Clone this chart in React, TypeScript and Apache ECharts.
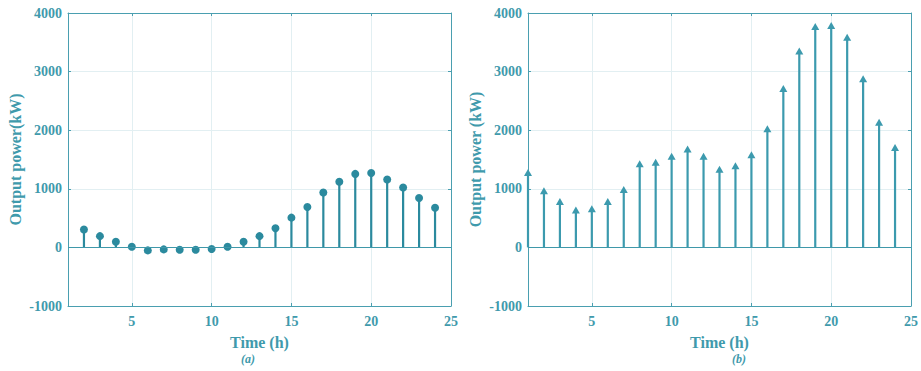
import React, { useEffect, useRef } from 'react';
import * as echarts from 'echarts';

const hoursA = [2, 3, 4, 5, 6, 7, 8, 9, 10, 11, 12, 13, 14, 15, 16, 17, 18, 19, 20, 21, 22, 23, 24];
const powerA = [305, 192, 96, 11, -51, -34, -40, -40, -28, 11, 96, 192, 328, 508, 689, 938, 1119, 1254, 1271, 1158, 1023, 842, 678];
const hoursB = [1, 2, 3, 4, 5, 6, 7, 8, 9, 10, 11, 12, 13, 14, 15, 16, 17, 18, 19, 20, 21, 22, 23, 24];
const powerB = [1277, 966, 785, 638, 661, 785, 989, 1429, 1452, 1554, 1678, 1554, 1333, 1395, 1582, 2023, 2712, 3350, 3768, 3785, 3588, 2876, 2136, 1706];
const xTickValues = [5, 10, 15, 20, 25];
const xMin = 1;
const xMax = 25;
const yMin = -1000;
const yMax = 4000;
const xTitle = 'Time (h)';
const yTitleA = 'Output power(kW)';
const yTitleB = 'Output power (kW)';
const captionA = '(a)';
const captionB = '(b)';

const axisColor = '#4a9fb0';
const textColor = '#3f9aac';
const gridColor = '#e2eff2';
const font = '"Liberation Serif", "Times New Roman", serif';

export default function App() {
  const ref = useRef<HTMLDivElement>(null);
  useEffect(() => {
    if (!ref.current) return;
    const chart = echarts.init(ref.current, undefined, { renderer: 'svg' });

    const grids = [
      { left: 68, top: 13, width: 383, height: 293 },
      { left: 528, top: 13, width: 384, height: 293 },
    ];

    const plain = (v: number) => String(v);

    const xAxes: any[] = [];
    const yAxes: any[] = [];
    grids.forEach((_, gi) => {
      xAxes.push({
        type: 'value', gridIndex: gi, min: xMin, max: xMax, position: 'bottom',
        name: xTitle, nameLocation: 'middle', nameGap: 28,
        nameTextStyle: { color: textColor, fontFamily: font, fontWeight: 'bold', fontSize: 16 },
        axisLine: { show: true, onZero: false, lineStyle: { color: axisColor, width: 1 } },
        axisTick: { show: true, inside: true, length: 3, customValues: xTickValues, lineStyle: { color: axisColor } },
        axisLabel: { show: true, customValues: xTickValues, formatter: plain, margin: 8, color: textColor, fontFamily: font, fontWeight: 'bold', fontSize: 14 },
        splitLine: { show: true, lineStyle: { color: gridColor, width: 1 } },
      });
      xAxes.push({
        type: 'value', gridIndex: gi, min: xMin, max: xMax, position: 'top',
        axisLine: { show: true, onZero: false, lineStyle: { color: axisColor, width: 1 } },
        axisTick: { show: true, inside: true, length: 3, customValues: xTickValues, lineStyle: { color: axisColor } },
        axisLabel: { show: false },
        splitLine: { show: false },
      });
      yAxes.push({
        type: 'value', gridIndex: gi, min: yMin, max: yMax, interval: 1000, position: 'left',
        name: gi === 0 ? yTitleA : yTitleB, nameLocation: 'middle', nameGap: 45,
        nameTextStyle: { color: textColor, fontFamily: font, fontWeight: 'bold', fontSize: 16 },
        axisLine: { show: true, onZero: false, lineStyle: { color: axisColor, width: 1 } },
        axisTick: { show: true, inside: true, length: 3, lineStyle: { color: axisColor } },
        axisLabel: { show: true, formatter: plain, margin: 6, color: textColor, fontFamily: font, fontWeight: 'bold', fontSize: 14 },
        splitLine: { show: true, lineStyle: { color: gridColor, width: 1 } },
      });
      yAxes.push({
        type: 'value', gridIndex: gi, min: yMin, max: yMax, interval: 1000, position: 'right',
        axisLine: { show: true, onZero: false, lineStyle: { color: axisColor, width: 1 } },
        axisTick: { show: true, inside: true, length: 3, lineStyle: { color: axisColor } },
        axisLabel: { show: false },
        splitLine: { show: false },
      });
    });

    const zeroLine = {
      silent: true, symbol: 'none', label: { show: false },
      lineStyle: { color: '#3f98aa', width: 1.2, type: 'solid' },
      data: [{ yAxis: 0 }],
    };

    const colA = '#2b8a9e';
    const colB = '#3c9aae';

    chart.setOption({
      animation: false,
      grid: grids,
      xAxis: xAxes,
      yAxis: yAxes,
      series: [
        {
          type: 'bar', xAxisIndex: 0, yAxisIndex: 0, barWidth: 2.2,
          data: hoursA.map((h, i) => [h, powerA[i]]),
          itemStyle: { color: colA }, markLine: zeroLine, silent: true,
        },
        {
          type: 'scatter', xAxisIndex: 0, yAxisIndex: 0, symbol: 'circle', symbolSize: 8,
          data: hoursA.map((h, i) => [h, powerA[i]]),
          itemStyle: { color: colA, opacity: 1 }, silent: true,
        },
        {
          type: 'bar', xAxisIndex: 2, yAxisIndex: 2, barWidth: 2.2,
          data: hoursB.map((h, i) => [h, powerB[i]]),
          itemStyle: { color: colB }, markLine: zeroLine, silent: true,
        },
        {
          type: 'scatter', xAxisIndex: 2, yAxisIndex: 2, symbol: 'triangle', symbolSize: [8, 7],
          data: hoursB.map((h, i) => [h, powerB[i]]),
          itemStyle: { color: colB, opacity: 1 }, silent: true,
        },
      ],
      graphic: [
        { type: 'text', left: 241, top: 353, style: { text: captionA, fill: textColor, font: `italic bold 12px ${font}` } },
        { type: 'text', left: 732, top: 353, style: { text: captionB, fill: textColor, font: `italic bold 12px ${font}` } },
      ],
    });
    return () => chart.dispose();
  }, []);
  return <div ref={ref} style={{ position: 'fixed', left: 0, top: 0, width: 921, height: 371, background: '#fff' }} />;
}
